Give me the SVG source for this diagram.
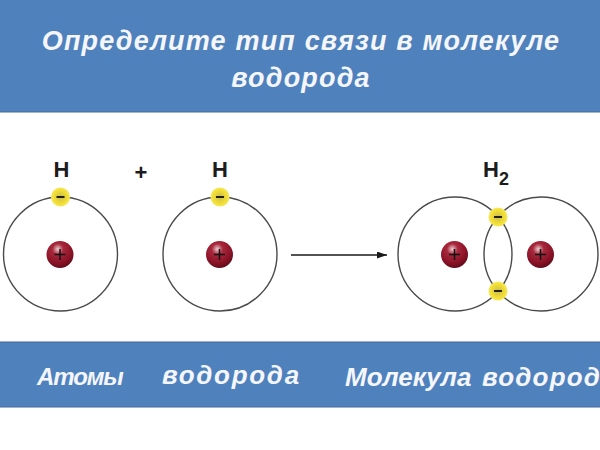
<svg xmlns="http://www.w3.org/2000/svg" width="600" height="450" viewBox="0 0 600 450">
<defs>
<radialGradient id="nuc" cx="0.42" cy="0.3" r="0.72"><stop offset="0" stop-color="#eccfd2"/><stop offset="0.28" stop-color="#a8283c"/><stop offset="0.72" stop-color="#8a1226"/><stop offset="1" stop-color="#5e0c1a"/></radialGradient>
<radialGradient id="el" cx="0.5" cy="0.5" r="0.5"><stop offset="0" stop-color="#c9bb58"/><stop offset="0.65" stop-color="#f0dc30"/><stop offset="1" stop-color="#f6e858"/></radialGradient>
<marker id="arr" markerWidth="11" markerHeight="8" refX="10" refY="3.5" orient="auto" markerUnits="userSpaceOnUse"><path d="M0 0L10 3.5L0 7z" fill="#1a1a1a"/></marker>
<g id="nucleus"><circle r="13.5" fill="url(#nuc)"/><path d="M-5.500 0H5.500M0-5.500V5.500" stroke="#111" stroke-width="1.500" fill="none"/></g>
<g id="electron"><circle r="9.500" fill="url(#el)"/><path d="M-4 0H4" stroke="#222" stroke-width="2" fill="none"/></g>
</defs>
<style>
.band{fill:#4f81bd;stroke:#41699a;stroke-width:1}
.hd{font-family:"Liberation Sans",Arial,sans-serif;font-weight:bold;font-style:italic;fill:#f4f6fa}
.sym{font-family:"Liberation Sans",Arial,sans-serif;font-weight:bold;fill:#1c1c1c}
.orb{fill:none;stroke:#4a4a4a;stroke-width:1.400}
</style>
<rect width="600" height="450" fill="#fff"/>
<g id="title"><rect class="band" x="-1" y="-1" width="602" height="113"/>
<text class="hd" x="301" y="50" font-size="27" letter-spacing="1.170" text-anchor="middle">Определите тип связи в молекуле</text>
<text class="hd" x="301" y="87" font-size="27" letter-spacing="1.170" text-anchor="middle">водорода</text></g>
<g id="atom1"><circle class="orb" cx="60.500" cy="254" r="57"/><use href="#nucleus" x="60" y="254.500"/><use href="#electron" x="60.500" y="197"/>
<text class="sym" x="61.500" y="177" font-size="22" text-anchor="middle">H</text></g>
<g id="plus"><text class="sym" x="141" y="179.500" font-size="22" text-anchor="middle">+</text></g>
<g id="atom2"><circle class="orb" cx="220" cy="254" r="57"/><use href="#nucleus" x="219.500" y="254.500"/><use href="#electron" x="220" y="197"/>
<text class="sym" x="220" y="177" font-size="22" text-anchor="middle">H</text></g>
<g id="connectors"><path d="M291 255H387" stroke="#1a1a1a" stroke-width="1.500" fill="none" marker-end="url(#arr)"/></g>
<g id="molecule"><circle class="orb" cx="455" cy="254" r="57"/><circle class="orb" cx="541" cy="254" r="57"/>
<use href="#nucleus" x="454.500" y="254.500"/><use href="#nucleus" x="540.500" y="254.500"/>
<use href="#electron" x="498" y="217"/><use href="#electron" x="498" y="291"/>
<text class="sym" x="483" y="177" font-size="22">H<tspan font-size="18" dy="8">2</tspan></text></g>
<g id="caption"><rect class="band" x="-1" y="342" width="602" height="65"/>
<text class="hd" x="37" y="385" font-size="24" letter-spacing="-1.100">Атомы</text>
<text class="hd" x="162" y="384" font-size="26" letter-spacing="1.700">водорода</text>
<text class="hd" x="345" y="386" font-size="26">Молекула <tspan x="482" letter-spacing="1.200">водород</tspan></text></g>
</svg>
